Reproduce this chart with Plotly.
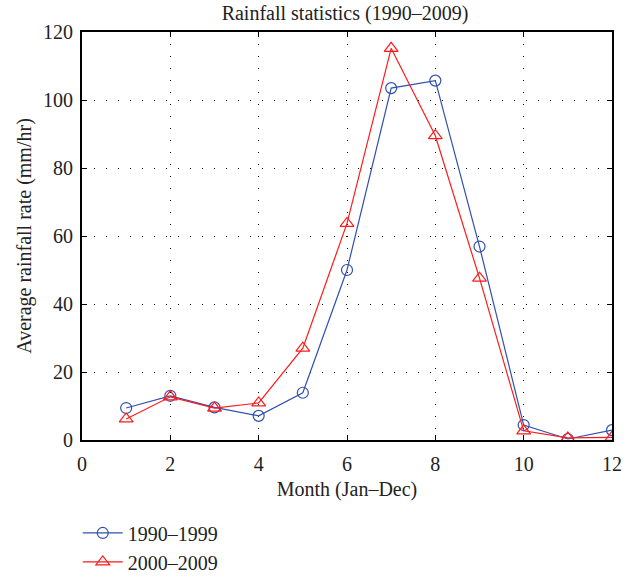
import plotly.graph_objects as go

months = [1, 2, 3, 4, 5, 6, 7, 8, 9, 10, 11, 12]
rain_1990s = [9.4, 13.0, 9.6, 7.1, 13.9, 50.0, 103.5, 105.7, 56.9, 4.4, 0.3, 2.9]
rain_2000s = [6.2, 12.7, 9.4, 10.9, 27.0, 63.7, 115.2, 89.5, 47.6, 2.7, 0.6, 0.8]
x_ticks = [0, 2, 4, 6, 8, 10, 12]
y_ticks = [0, 20, 40, 60, 80, 100, 120]

FONT = "Liberation Serif"
BLUE = "#3150b0"
RED = "#ff1a1a"
TXT = "#222222"

fig = go.Figure()
fig.add_trace(go.Scatter(
    x=months, y=rain_1990s, mode="lines+markers", name="1990\u20131999",
    line=dict(color=BLUE, width=1.2),
    marker=dict(symbol="circle-open", size=11, color=BLUE, line=dict(width=1.2)),
))
fig.add_trace(go.Scatter(
    x=months, y=rain_2000s, mode="lines+markers", name="2000\u20132009",
    line=dict(color=RED, width=1.2),
    marker=dict(symbol="triangle-up-open", size=12, color=RED, line=dict(width=1.2)),
))

axis_common = dict(
    showline=True, linecolor="black", linewidth=2, mirror="ticks",
    ticks="inside", ticklen=5, tickcolor="black",
    showgrid=True, gridcolor="black", gridwidth=1, griddash="1px,11px",
    zeroline=False, tickfont=dict(family=FONT, size=20, color=TXT),
)

fig.update_xaxes(range=[0, 12], tickvals=x_ticks, ticklabelstandoff=5, **axis_common,
                 title=dict(text="Month (Jan\u2013Dec)", font=dict(family=FONT, size=20, color=TXT), standoff=8))
fig.update_yaxes(range=[0, 120], tickvals=y_ticks, ticklabelstandoff=3, **axis_common,
                 title=dict(text="Average rainfall rate (mm/hr)", font=dict(family=FONT, size=20, color=TXT), standoff=6))

fig.update_layout(
    width=633, height=578,
    margin=dict(l=82, r=21, t=32, b=138, autoexpand=False),
    paper_bgcolor="white", plot_bgcolor="white",
    title=dict(text="Rainfall statistics (1990\u20132009)", x=0.545, xanchor="center",
               y=1 - 13 / 578, yanchor="middle", font=dict(family=FONT, size=20, color=TXT)),
    legend=dict(x=-0.008, y=-0.18, xanchor="left", yanchor="top",
                font=dict(family=FONT, size=20, color=TXT),
                bgcolor="rgba(0,0,0,0)", tracegroupgap=0, itemwidth=40),
    showlegend=True,
)

fig.write_html("out.html")
